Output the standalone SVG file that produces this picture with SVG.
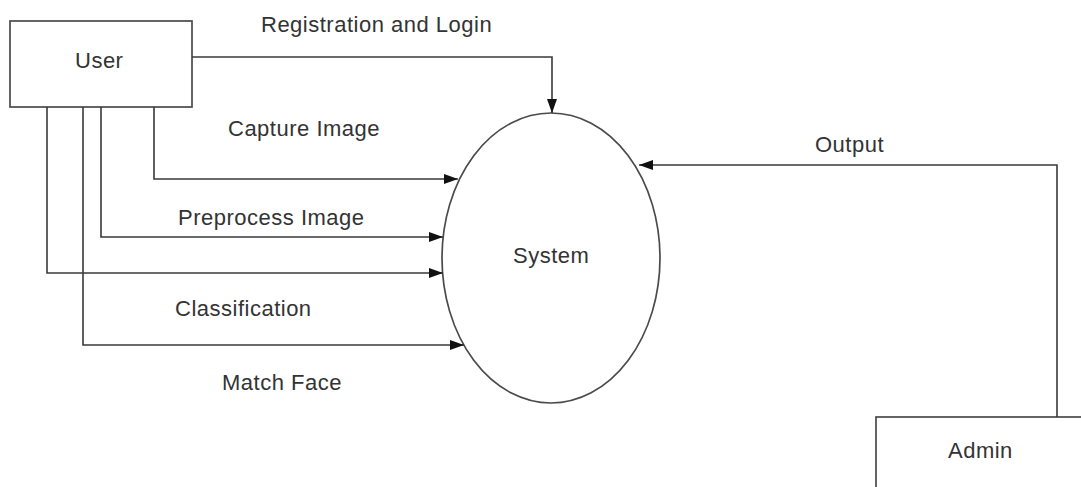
<svg xmlns="http://www.w3.org/2000/svg" width="1081" height="487" viewBox="0 0 1081 487">
<style>
.box{fill:#fff;stroke:#4a4a4a;stroke-width:1.7}
.ln{fill:none;stroke:#3a3a3a;stroke-width:1.6}
text{font-family:"Liberation Sans",Arial,sans-serif;font-size:22px;letter-spacing:0.5px;fill:#333}
</style>
<defs>
<marker id="ah" markerWidth="14" markerHeight="10" refX="14" refY="5" orient="auto" markerUnits="userSpaceOnUse">
<path d="M0,0 L14,5 L0,10 Z" fill="#111"/>
</marker>
</defs>
<rect width="1081" height="487" fill="#fff"/>
<g id="user">
<rect class="box" x="10" y="21" width="182" height="86"/>
<text x="75" y="68">User</text>
</g>
<g id="system">
<ellipse class="box" cx="551" cy="258" rx="109" ry="145"/>
<text x="513" y="263">System</text>
</g>
<g id="admin">
<rect class="box" x="876" y="417" width="300" height="100"/>
<text x="948" y="458">Admin</text>
</g>
<g id="connectors">
<polyline class="ln" points="192,57 552,57 552,113" marker-end="url(#ah)"/>
<polyline class="ln" points="154,107 154,179 458,179" marker-end="url(#ah)"/>
<polyline class="ln" points="101,107 101,237 443,237" marker-end="url(#ah)"/>
<polyline class="ln" points="47,107 47,273 443,273" marker-end="url(#ah)"/>
<polyline class="ln" points="83,107 83,345 464,345" marker-end="url(#ah)"/>
<polyline class="ln" points="1057,417 1057,165 639,165" marker-end="url(#ah)"/>
</g>
<g id="labels">
<text x="261" y="32">Registration and Login</text>
<text x="228" y="136">Capture Image</text>
<text x="815" y="152">Output</text>
<text x="178" y="225">Preprocess Image</text>
<text x="175" y="316">Classification</text>
<text x="222" y="390">Match Face</text>
</g>
</svg>
